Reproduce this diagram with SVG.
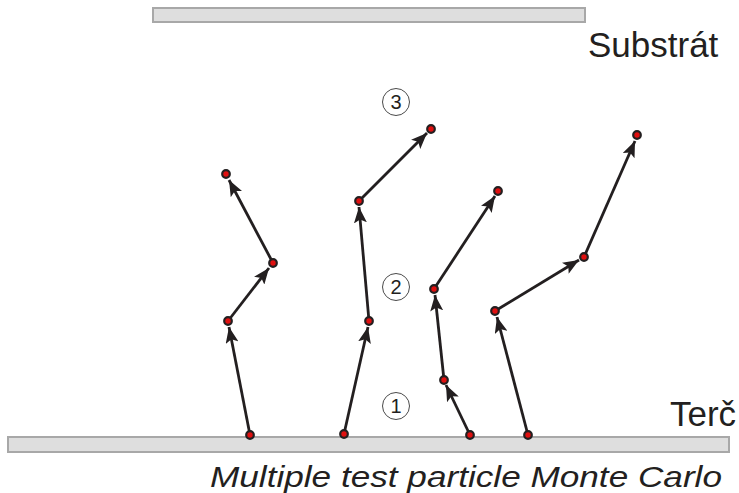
<svg xmlns="http://www.w3.org/2000/svg" width="739" height="493" viewBox="0 0 739 493">
  <style>
    .bar { fill: #dedede; stroke: #a8a8a8; stroke-width: 2; }
    .step { fill: none; stroke: #231f20; stroke-width: 2.8; marker-end: url(#arrow); }
    .pt { fill: #e01010; stroke: #231f20; stroke-width: 2.2; }
    .lbl { font-family: "Liberation Sans", Arial, sans-serif; fill: #231f20; }
    .ring { fill: #ffffff; stroke: #4a4a4a; stroke-width: 1; }
    .num { font-family: "Liberation Sans", Arial, sans-serif; font-size: 20px; fill: #231f20; text-anchor: middle; }
  </style>
  <defs>
    <marker id="arrow" viewBox="0 0 16 13" refX="16" refY="6.5" markerWidth="16" markerHeight="13" markerUnits="userSpaceOnUse" orient="auto">
      <path d="M0,0 L16,6.5 L0,13 L3.5,6.5 Z" fill="#231f20"/>
    </marker>
  </defs>

  <!-- substrate and target plates -->
  <g id="substrate">
    <rect class="bar" x="153" y="8" width="432" height="14"/>
    <text class="lbl" x="588" y="57" font-size="35">Substrát</text>
  </g>
  <g id="target">
    <rect class="bar" x="8" y="437" width="721" height="15"/>
    <text class="lbl" x="670" y="426" font-size="35">Terč</text>
  </g>

  <!-- step markers -->
  <g id="step1"><circle class="ring" cx="396" cy="406" r="13.5"/><text class="num" x="396" y="413">1</text></g>
  <g id="step2"><circle class="ring" cx="396" cy="287" r="13.5"/><text class="num" x="396" y="294">2</text></g>
  <g id="step3"><circle class="ring" cx="396" cy="102" r="13.5"/><text class="num" x="396" y="109">3</text></g>

  <!-- particle trajectories -->
  <g id="connectors">
    <line class="step" x1="250" y1="435" x2="229" y2="327"/>
    <line class="step" x1="228" y1="321" x2="269" y2="268"/>
    <line class="step" x1="273" y1="263" x2="229" y2="180"/>

    <line class="step" x1="344" y1="434" x2="368" y2="327"/>
    <line class="step" x1="369" y1="321" x2="359" y2="207"/>
    <line class="step" x1="359" y1="201" x2="427" y2="133"/>

    <line class="step" x1="470" y1="435" x2="446" y2="385"/>
    <line class="step" x1="444" y1="380" x2="435" y2="295"/>
    <line class="step" x1="434" y1="289" x2="495" y2="196"/>

    <line class="step" x1="528" y1="435" x2="497" y2="317"/>
    <line class="step" x1="495" y1="311" x2="579" y2="260"/>
    <line class="step" x1="584" y1="257" x2="635" y2="141"/>
  </g>

  <g id="particles">
    <circle class="pt" cx="250" cy="435" r="3.8"/>
    <circle class="pt" cx="228" cy="321" r="3.8"/>
    <circle class="pt" cx="273" cy="263" r="3.8"/>
    <circle class="pt" cx="226" cy="174" r="3.8"/>

    <circle class="pt" cx="344" cy="434" r="3.8"/>
    <circle class="pt" cx="369" cy="321" r="3.8"/>
    <circle class="pt" cx="359" cy="201" r="3.8"/>
    <circle class="pt" cx="431" cy="129" r="3.8"/>

    <circle class="pt" cx="470" cy="435" r="3.8"/>
    <circle class="pt" cx="444" cy="380" r="3.8"/>
    <circle class="pt" cx="434" cy="289" r="3.8"/>
    <circle class="pt" cx="498" cy="191" r="3.8"/>

    <circle class="pt" cx="528" cy="435" r="3.8"/>
    <circle class="pt" cx="495" cy="311" r="3.8"/>
    <circle class="pt" cx="584" cy="257" r="3.8"/>
    <circle class="pt" cx="637" cy="135" r="3.8"/>
  </g>

  <text class="lbl" x="210" y="487" font-size="29" font-style="italic" textLength="512" lengthAdjust="spacingAndGlyphs">Multiple test particle Monte Carlo</text>
</svg>
